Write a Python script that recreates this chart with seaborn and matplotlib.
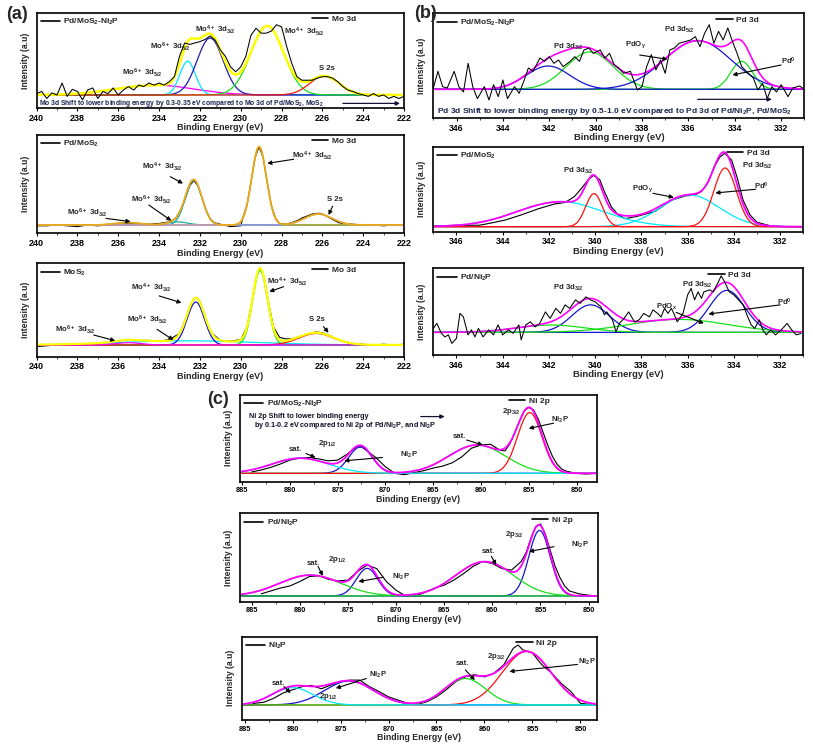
import numpy as np
import matplotlib
matplotlib.use("Agg")
import matplotlib.pyplot as plt
from matplotlib.lines import Line2D
from matplotlib.ticker import MultipleLocator
import seaborn as sns

# ======================= DATA =======================
# ---- (a) Mo 3d, Pd/MoS2-Ni2P ----
A1_E = [240.0, 239.75, 239.5, 239.25, 239.0, 238.75, 238.5, 238.25, 238.0, 237.75,
        237.5, 237.25, 237.0, 236.75, 236.5, 236.25, 236.0, 235.75, 235.5, 235.25,
        235.0, 234.75, 234.5, 234.25, 234.0, 233.75, 233.5, 233.25, 233.0, 232.75,
        232.5, 232.25, 232.0, 231.75, 231.5, 231.25, 231.0, 230.75, 230.5, 230.25,
        230.0, 229.75, 229.5, 229.25, 229.0, 228.75, 228.5, 228.25, 228.0, 227.75,
        227.5, 227.25, 227.0, 226.75, 226.5, 226.25, 226.0, 225.75, 225.5, 225.25,
        225.0, 224.75, 224.5, 224.25, 224.0, 223.75, 223.5, 223.25, 223.0, 222.75,
        222.5, 222.25, 222.0]
A1_I = [2, 5, -5, 3, 0, 17, -2, 8, 5, -7,
        7, 10, -5, 5, 2, 10, 0, 7, 12, 7,
        14, 12, 17, 14, 17, 14, 19, 26, 55, 74,
        72, 74, 76, 79, 84, 78, 64, 55, 40, 33,
        40, 55, 85, 95, 88, 88, 91, 100, 97, 69,
        45, 26, 21, 21, 21, 24, 26, 26, 24, 19,
        12, 7, 5, 2, 0, -2, 2, -2, 0, -5,
        -2, -5, -2]
A1_CENTER = [234.2, 232.6, 231.5, 228.7, 225.9]
A1_HEIGHT = [14, 48, 81, 98, 27]
A1_FWHM = [4.5, 0.9, 1.5, 1.9, 1.7]

# ---- (a) Mo 3d, Pd/MoS2 ----
A2_E = [240, 239.5, 239, 238.5, 238, 237.5, 237, 236.5, 236, 235.5, 235, 234.5, 234, 233.5,
        233.2, 232.9, 232.7, 232.5, 232.3, 232.1, 231.9, 231.7, 231.5, 231.3,
        231, 230.5, 230, 229.9, 229.7, 229.5, 229.3, 229.1, 228.9, 228.7,
        228.5, 228.3, 228.1, 227.8, 227.5, 227.2, 227, 226.7, 226.5, 226.2,
        226, 225.7, 225.5, 225.2, 225, 224.5, 224, 223.5, 223, 222.5, 222]
A2_I = [-1, -1, 0, -1, -2, 0, -1, 0, 1, 2, 2, 1, 2, 4,
        8, 21, 35, 50, 57, 50, 35, 19, 8, 3,
        1, -2, -1, 9, 25, 54, 86, 100, 86, 54,
        25, 9, 2, 1, 3, 6, 9, 12, 14, 15,
        14, 10, 7, 3, 2, 1, 0, 0, -1, 0, 0]
A2_CENTER = [235.5, 233.1, 232.3, 229.1, 226.2]
A2_HEIGHT = [3, 4, 57, 100, 14]
A2_FWHM = [1.5, 1.2, 0.95, 0.85, 1.6]

# ---- (a) Mo 3d, MoS2 ----
A3_E = [240, 239.5, 239, 238.5, 238, 237.5, 237, 236.5, 236, 235.5, 235, 234.5, 234, 233.5,
        233, 232.8, 232.6, 232.4, 232.2, 232, 231.8, 231.6, 231.4, 231,
        230.5, 230, 229.7, 229.45, 229.25, 229.05, 228.85, 228.65, 228.4, 228.1,
        227.8, 227.5, 227, 226.6, 226.3, 226, 225.6, 225.3, 225, 224.5,
        224, 223.5, 223, 222.5, 222]
A3_I = [-2, -1, 0, 0, 1, 2, 2, 3, 5, 7, 6, 6, 5, 7,
        15, 27, 42, 56, 62, 57, 42, 26, 15, 6,
        5, 7, 23, 57, 88, 101, 88, 57, 24, 10,
        8, 8, 12, 15, 17, 16, 12, 8, 5, 2,
        1, 0, 1, 0, 1]
A3_CENTER = [232.5, 232.2, 229.05, 226.3, 235.5]
A3_HEIGHT = [5.5, 56, 97, 15, 3]
A3_FWHM = [8.0, 1.0, 0.85, 2.0, 1.5]

# ---- (b) Pd 3d, Pd/MoS2-Ni2P ----
B1_E = [347, 346.8, 346.6, 346.4, 346.1, 345.9, 345.7, 345.5, 345.3, 345.1,
        344.8, 344.6, 344.4, 344.2, 344, 343.8, 343.5, 343.3, 343.1, 342.9,
        342.7, 342.4, 342.2, 342, 341.8, 341.6, 341.4, 341.1, 340.9, 340.7,
        340.5, 340.3, 340.1, 339.8, 339.6, 339.4, 339.2, 339, 338.8, 338.5,
        338.2, 338, 337.8, 337.6, 337.4, 337.2, 337, 336.8, 336.6, 336.4,
        336.1, 335.9, 335.7, 335.5, 335.3, 335.1, 334.9, 334.7, 334.5, 334.3,
        334.1, 333.9, 333.7, 333.5, 333.2, 333, 332.8, 332.6, 332.4, 332.2,
        332, 331.7, 331.5, 331.2, 331]
B1_I = [2, 27, 4, 2, 27, 4, -4, 39, 4, -14,
        4, -16, 7, -11, 14, -14, 4, -6, 12, 32,
        27, 47, 42, 49, 39, 44, 34, 42, 49, 42,
        59, 62, 54, 59, 47, 54, 37, 32, 24, 27,
        -1, 4, 34, 52, 29, 44, 24, 59, 62, 69,
        72, 74, 79, 64, 84, 97, 69, 87, 74, 92,
        72, 54, 34, 27, 17, -1, 9, -14, 4, -4,
        7, -11, 2, 5, 0]
B1_CENTER = [340.25, 333.7, 342.05, 335.6]
B1_HEIGHT = [56, 42, 35, 73]
B1_FWHM = [2.4, 1.1, 2.2, 3.4]

# ---- (b) Pd 3d, Pd/MoS2 ----
B2_E = [347, 346, 345, 344.5, 343.9, 343.2, 342.5, 341.75, 341.3, 340.9,
        340.6, 340.3, 340.07, 339.8, 339.6, 339.3, 339, 338.7, 338.2, 337.4,
        336.7, 336.1, 335.7, 335.4, 335.1, 334.85, 334.6, 334.4, 334.1, 333.85,
        333.6, 333.3, 333, 332.4, 331.7, 331]
B2_I = [1, 2, 2, 5, 9, 16, 24, 31, 33, 41,
        52, 64, 70, 64, 48, 27, 16, 11, 14, 21,
        36, 42, 43, 48, 61, 82, 95, 100, 91, 66,
        36, 16, 6, 1, 0, 0]
B2_CENTER = [341.5, 335.9, 340.05, 334.38]
B2_HEIGHT = [34, 43, 45, 80]
B2_FWHM = [4.4, 3.0, 0.85, 1.15]

# ---- (b) Pd 3d, Pd/Ni2P ----
B3_E = [347, 346.85, 346.65, 346.5, 346.35, 346.2, 346, 345.85, 345.7, 345.5,
        345.35, 345.2, 345.05, 344.85, 344.6, 344.4, 344.2, 344, 343.75, 343.55,
        343.3, 343.2, 343, 342.8, 342.6, 342.4, 342.15, 341.95, 341.7, 341.5,
        341.3, 341.1, 340.85, 340.65, 340.4, 340.2, 340, 339.75, 339.6, 339.5,
        339.25, 339.1, 338.95, 338.75, 338.55, 338.3, 338.1, 337.9, 337.65, 337.5,
        337.3, 337.15, 337, 336.85, 336.7, 336.6, 336.45, 336.2, 336, 335.85,
        335.7, 335.55, 335.4, 335.3, 335.05, 334.9, 334.7, 334.55, 334.4, 334.2,
        334, 333.8, 333.6, 333.4, 333.25, 333.1, 332.9, 332.75, 332.6, 332.4,
        332.2, 331.95, 331.7, 331.5, 331.3, 331.1]
B3_I = [8, 18, -2, -9, -5, -22, -12, 38, 31, -5,
        5, -9, 8, -9, 5, -5, 15, -5, 5, -2,
        15, -15, 15, 21, 11, 18, 41, 28, 48, 38,
        55, 48, 65, 58, 71, 65, 61, 51, 35, 41,
        25, 1, 18, 28, 41, 21, 25, 38, 31, 45,
        38, 31, 48, 38, 48, 38, 21, 38, 75, 88,
        65, 81, 68, 81, 85, 81, 98, 113, 101, 81,
        75, 65, 55, 31, 15, 8, 25, 5, -5, 5,
        -5, 5, 18, 5, -5, -2]
B3_CENTER = [340.2, 334.3, 341.9, 336.4]
B3_HEIGHT = [55, 84, 14.7, 26]
B3_FWHM = [1.9, 1.8, 3.5, 5.0]

# ---- (c) Ni 2p, Pd/MoS2-Ni2P ----
C1_E = [884, 883, 882, 881, 880, 879, 878, 877, 876, 875, 874,
        873, 872.5, 872, 871, 870, 869, 868, 867, 866, 865,
        864, 863, 862, 861, 860, 859, 858, 857.5, 857, 856.5,
        856, 855.5, 855, 854.5, 854, 853.5, 853, 852.5, 852, 851.5,
        851, 850, 849, 848]
C1_I = [2, 5, 9, 14, 20, 23, 24, 22, 19, 20, 29,
        40, 40, 35, 24, 10, 0, -2, 1, 4, 8,
        11, 16, 25, 38, 43, 44, 35, 34, 44, 60,
        78, 94, 100, 96, 82, 62, 42, 25, 13, 6,
        3, 0, -1, 0]
C1_CENTER = [872.6, 860.4, 854.9, 878.9]
C1_HEIGHT = [40, 43, 92, 23]
C1_FWHM = [2.9, 7.0, 3.0, 7.0]

# ---- (c) Ni 2p, Pd/Ni2P ----
C2_E = [884, 883, 882, 881, 880, 879, 878, 877, 876, 875,
        874, 873, 872, 871, 870, 869, 868, 867, 866, 865,
        864, 863, 862, 861, 860, 859, 858, 857,
        856.5, 856, 855.5, 855, 854.5, 854, 853.5, 853, 852.5, 852,
        851, 850, 849]
C2_I = [3, 7, 11, 14, 20, 27, 28, 23, 21, 22,
        34, 43, 38, 20, 8, 0, 0, 5, 11, 15,
        22, 31, 41, 48, 45, 38, 36, 48,
        60, 80, 96, 100, 86, 64, 42, 26, 14, 7,
        3, 1, 0]
C2_CENTER = [873.0, 855.1, 878.9, 860.8]
C2_HEIGHT = [38.4, 91, 29, 47.7]
C2_FWHM = [2.6, 2.6, 7.5, 7.0]

# ---- (c) Ni 2p, Ni2P ----
C3_E = [884.5, 884, 883, 882, 881, 880, 879, 878, 877, 876,
        875, 874, 873, 872, 871, 870, 869, 868, 867, 866,
        865, 864, 863, 862, 861, 860, 859, 858, 857, 856.5,
        856, 855, 854, 853, 852, 851, 850, 849, 848.5]
C3_I = [-1, 3, 5, 12, 22, 28, 34, 36, 30, 37,
        43, 46, 46, 34, 25, 15, 9, 3, 1, 6,
        15, 28, 43, 52, 56, 52, 59, 74, 105, 111,
        102, 96, 74, 59, 40, 25, 3, 1, 1]
C3_CENTER = [874.1, 855.6, 862.0, 880.0]
C3_HEIGHT = [44.4, 99, 49, 32]
C3_FWHM = [6.0, 6.0, 5.0, 5.0]

# ======================= STYLE / LAYOUT =======================
sns.set_theme(style="ticks")
plt.rcParams["font.family"] = ["Liberation Sans", "DejaVu Sans"]
plt.rcParams["font.weight"] = "bold"
plt.rcParams["axes.labelweight"] = "bold"
plt.rcParams["mathtext.default"] = "regular"

MAG, CYA, BLU, GRN, RED = "#ff00ff", "#00e8ff", "#1414d0", "#18e018", "#ff1010"

PANELS = [
    dict(rect=[0.045, 0.8548, 0.452, 0.1277], E=A1_E, I=A1_I, c=A1_CENTER, h=A1_HEIGHT, w=A1_FWHM,
         colors=[MAG, CYA, "#1c1cb0", GRN, RED], env="#ffff00", env_lw=1.8, raw_top=True,
         xlim=(240, 222), ylim=(-18.6, 116.7), major=2, minor=1,
         sample="Pd/MoS$_2$-Ni$_2$P", core="Mo 3d", core_x=0.875, tfs=6.5, xfs=6.5,
         labels=[("Mo$^{6+}$ 3d$_{5/2}$", 234.8, 31), ("Mo$^{6+}$ 3d$_{5/2}$", 233.45, 69),
                 ("Mo$^{4+}$ 3d$_{3/2}$", 231.25, 93), ("Mo$^{4+}$ 3d$_{5/2}$", 226.9, 90),
                 ("S 2s", 225.8, 38)],
         arrows=[],
         note=[("Mo 3d Shift to lower binding energy by 0.3-0.35 eV compared to Mo 3d of Pd/MoS$_2$, MoS$_2$",
                239.9, -12)],
         note_arrows=[(225.0, -12, 222.2, -12)], note_fs=4.9, note_color="#1b2450"),
    dict(rect=[0.045, 0.6864, 0.452, 0.1321], E=A2_E, I=A2_I, c=A2_CENTER, h=A2_HEIGHT, w=A2_FWHM,
         colors=["#2ecc55", "#20a8a0", "#20a8a0", "#eaa81c", "#c58cf0"], env="#eaa81c", env_lw=1.3,
         raw_top=False, xlim=(240, 222), ylim=(-10.6, 114.9), major=2, minor=1,
         sample="Pd/MoS$_2$", core="Mo 3d", core_x=0.875, tfs=6.5, xfs=6.5,
         labels=[("Mo$^{4+}$ 3d$_{3/2}$", 233.86, 74.5), ("Mo$^{4+}$ 3d$_{5/2}$", 226.5, 89),
                 ("Mo$^{6+}$ 3d$_{5/2}$", 234.4, 32), ("Mo$^{6+}$ 3d$_{3/2}$", 237.5, 15.7),
                 ("S 2s", 225.4, 32)],
         arrows=[(233.45, 61.7, 232.83, 53), (227.4, 84, 228.7, 78.7), (234.5, 25.5, 233.4, 5.5),
                 (236.6, 8.5, 235.4, 4.3), (225.5, 24, 225.7, 12.8)],
         note=[], note_arrows=[]),
    dict(rect=[0.045, 0.5206, 0.452, 0.1255], E=A3_E, I=A3_I, c=A3_CENTER, h=A3_HEIGHT, w=A3_FWHM,
         colors=[CYA, "#1010e0", GRN, RED, MAG], env="#ffff00", env_lw=1.6, raw_top=False,
         xlim=(240, 222), ylim=(-15.2, 106.5), major=2, minor=1,
         sample="MoS$_2$", core="Mo 3d", core_x=0.875, tfs=6.5, xfs=6.5,
         labels=[("Mo$^{4+}$ 3d$_{3/2}$", 234.4, 75), ("Mo$^{4+}$ 3d$_{5/2}$", 227.7, 82.6),
                 ("Mo$^{6+}$ 3d$_{5/2}$", 234.6, 32.6), ("Mo$^{6+}$ 3d$_{3/2}$", 238.1, 19.6),
                 ("S 2s", 226.25, 32.6)],
         arrows=[(234.0, 64, 232.9, 55), (227.9, 76, 228.6, 69.6), (234.1, 20.4, 233.3, 6.5),
                 (237.2, 13, 236.15, 5.6), (225.95, 24, 225.7, 16)],
         note=[], note_arrows=[]),
    dict(rect=[0.533, 0.8414, 0.4563, 0.1407], E=B1_E, I=B1_I, c=B1_CENTER, h=B1_HEIGHT, w=B1_FWHM,
         colors=[GRN, GRN, BLU, BLU], env=MAG, env_lw=1.2, raw_top=True,
         xlim=(347, 331), ylim=(-43, 114), major=2, minor=1,
         sample="Pd/MoS$_2$-Ni$_2$P", core="Pd 3d", core_x=0.885, tfs=6.2, xfs=6.8,
         labels=[("Pd 3d$_{3/2}$", 341.2, 64), ("PdO$_y$", 338.3, 66.5),
                 ("Pd 3d$_{5/2}$", 336.4, 89), ("Pd$^0$", 331.7, 41.5)],
         arrows=[(338.1, 51.5, 336.9, 45), (332.0, 36.5, 334.1, 21.5)],
         note=[("Pd 3d Shift to lower binding energy by 0.5-1.0 eV compared to Pd 3d of Pd/Ni$_2$P, Pd/MoS$_2$",
                346.86, -33.5)],
         note_arrows=[(335.6, -15, 332.4, -15)], note_fs=6.0, note_color="#1b2450"),
    dict(rect=[0.533, 0.6886, 0.455, 0.1142], E=B2_E, I=B2_I, c=B2_CENTER, h=B2_HEIGHT, w=B2_FWHM,
         colors=[CYA, CYA, RED, RED], env=MAG, env_lw=1.3, raw_top=False,
         xlim=(347, 331), ylim=(-6.8, 109), major=2, minor=1,
         sample="Pd/MoS$_2$", core="Pd 3d", core_x=0.915, tfs=6.2, xfs=6.8,
         labels=[("Pd 3d$_{3/2}$", 340.75, 76), ("PdO$_y$", 337.95, 52),
                 ("Pd 3d$_{5/2}$", 333.0, 83), ("Pd$^0$", 332.8, 54.5)],
         arrows=[(337.5, 45.5, 336.6, 40), (333.06, 51, 334.8, 46)],
         note=[], note_arrows=[]),
    dict(rect=[0.533, 0.5228, 0.455, 0.1165], E=B3_E, I=B3_I, c=B3_CENTER, h=B3_HEIGHT, w=B3_FWHM,
         colors=[BLU, BLU, GRN, GRN], env=MAG, env_lw=1.2, raw_top=True,
         xlim=(347, 331), ylim=(-45.3, 128), major=2, minor=1,
         sample="Pd/Ni$_2$P", core="Pd 3d", core_x=0.865, tfs=6.2, xfs=6.8,
         labels=[("Pd 3d$_{3/2}$", 341.15, 88), ("Pd 3d$_{5/2}$", 335.6, 95),
                 ("PdO$_x$", 336.9, 50), ("Pd$^0$", 331.8, 61)],
         arrows=[(336.5, 40, 335.3, 18), (332.0, 55, 335.1, 36.7)],
         note=[], note_arrows=[]),
    dict(rect=[0.2952, 0.3526, 0.4387, 0.1165], E=C1_E, I=C1_I, c=C1_CENTER, h=C1_HEIGHT, w=C1_FWHM,
         colors=[BLU, GRN, RED, CYA], env=MAG, env_lw=1.3, raw_top=False,
         xlim=(885.2, 847.9), ylim=(-12.6, 118.7), major=5, minor=2.5,
         sample="Pd/MoS$_2$-Ni$_2$P", core="Ni 2p", core_x=0.875, tfs=5.3, xfs=6.3,
         labels=[("sat.", 879.35, 36), ("2p$_{1/2}$", 876.1, 45), ("Ni$_2$P", 867.5, 28),
                 ("sat.", 862.2, 55.5), ("2p$_{3/2}$", 856.8, 93), ("Ni$_2$P", 851.7, 81)],
         arrows=[(878.3, 30, 877.3, 24), (870.3, 24, 874.3, 19), (861.5, 50.5, 859.8, 43),
                 (852.4, 76, 855.0, 68)],
         note=[("Ni 2p Shift to lower binding energy", 884.3, 86),
               ("by 0.1-0.2 eV compared to Ni 2p of Pd/Ni$_2$P, and Ni$_2$P", 883.7, 73)],
         note_arrows=[(866.3, 86, 863.8, 86)], note_fs=5.2, note_color="#111122"),
    dict(rect=[0.2952, 0.1913, 0.4407, 0.1188], E=C2_E, I=C2_I, c=C2_CENTER, h=C2_HEIGHT, w=C2_FWHM,
         colors=[BLU, BLU, GRN, GRN], env=MAG, env_lw=1.3, raw_top=False,
         xlim=(886.2, 849.0), ylim=(-7.9, 114.8), major=5, minor=2.5,
         sample="Pd/Ni$_2$P", core="Ni 2p", core_x=0.935, tfs=5.3, xfs=6.3,
         labels=[("sat.", 878.6, 45), ("2p$_{1/2}$", 876.1, 50), ("Ni$_2$P", 869.5, 27),
                 ("sat.", 860.4, 61.6), ("2p$_{3/2}$", 857.7, 85), ("Ni$_2$P", 850.9, 71)],
         arrows=[(878.1, 41, 877.6, 28), (871.3, 26, 873.9, 20), (860.1, 55, 859.6, 43),
                 (853.6, 68.5, 856.2, 61.6)],
         note=[], note_arrows=[]),
    dict(rect=[0.2973, 0.0323, 0.4367, 0.1120], E=C3_E, I=C3_I, c=C3_CENTER, h=C3_HEIGHT, w=C3_FWHM,
         colors=[BLU, RED, GRN, CYA], env=MAG, env_lw=1.3, raw_top=False,
         xlim=(885.3, 848.3), ylim=(-27.8, 126.5), major=5, minor=2.5,
         sample="Ni$_2$P", core="Ni 2p", core_x=0.895, tfs=5.3, xfs=6.3,
         labels=[("sat.", 881.5, 40), ("2p$_{1/2}$", 876.3, 15.4), ("Ni$_2$P", 871.1, 55.5),
                 ("sat.", 862.3, 77), ("2p$_{3/2}$", 858.8, 89.5), ("Ni$_2$P", 849.3, 80)],
         arrows=[(880.9, 34, 880.2, 22), (872.3, 49, 875.5, 31), (862.0, 65, 861.0, 46),
                 (850.3, 75, 857.4, 62)],
         note=[], note_arrows=[]),
]


def gauss(x, c, h, w):
    return h * np.exp(-4.0 * np.log(2.0) * (x - c) ** 2 / w ** 2)


def line(ax, x, y, color, lw):
    sns.lineplot(x=np.asarray(x, float), y=np.asarray(y, float), ax=ax, color=color,
                 linewidth=lw, estimator=None, errorbar=None, legend=False)


fig = plt.figure(figsize=(8.13, 7.44), dpi=100)

for p in PANELS:
    ax = fig.add_axes(p["rect"])
    lo, hi = min(p["xlim"]), max(p["xlim"])
    grid = np.linspace(lo, hi, 900)
    comps = [gauss(grid, c, h, w) for c, h, w in zip(p["c"], p["h"], p["w"])]
    if not p["raw_top"]:
        line(ax, p["E"], p["I"], "black", 0.8)
    for comp, col in zip(comps, p["colors"]):
        line(ax, grid, comp, col, 0.9)
    line(ax, grid, np.sum(comps, axis=0), p["env"], p["env_lw"])
    if p["raw_top"]:
        line(ax, p["E"], p["I"], "black", 0.75)

    ax.set_xlim(p["xlim"])
    ax.set_ylim(p["ylim"])
    ax.set_yticks([])
    ax.xaxis.set_major_locator(MultipleLocator(p["major"]))
    ax.xaxis.set_minor_locator(MultipleLocator(p["minor"]))
    ax.tick_params(axis="x", which="major", length=2.5, width=0.8, pad=1.5,
                   labelsize=p["tfs"], direction="out", colors="black")
    ax.tick_params(axis="x", which="minor", length=1.5, width=0.6, direction="out")
    for lab in ax.get_xticklabels():
        lab.set_fontweight("bold")
    for s in ax.spines.values():
        s.set_linewidth(1.2)
        s.set_color("black")
    ax.set_xlabel("Binding Energy (eV)", fontsize=p["xfs"], fontweight="bold", labelpad=0.5)
    ax.set_ylabel("Intensity (a.u)", fontsize=6.2, fontweight="bold", labelpad=5)

    # legends: sample name (left) and core level (right)
    h = Line2D([], [], color="black", lw=1.2)
    l1 = ax.legend([h], [p["sample"]], loc="upper left", bbox_to_anchor=(0.0, 1.0),
                   frameon=False, prop=dict(size=6, weight="bold"), handlelength=2.3,
                   handletextpad=0.4, borderaxespad=0.2, borderpad=0.3)
    ax.add_artist(l1)
    ax.legend([h], [p["core"]], loc="upper right", bbox_to_anchor=(p["core_x"], 1.0),
              frameon=False, prop=dict(size=6, weight="bold"), handlelength=2.0,
              handletextpad=0.4, borderaxespad=0.1, borderpad=0.2)

    for txt, x, y in p["labels"]:
        ax.text(x, y, txt, fontsize=5.6, fontweight="bold", ha="center", va="center")
    for x0, y0, x1, y1 in p["arrows"]:
        ax.annotate("", xy=(x1, y1), xytext=(x0, y0),
                    arrowprops=dict(arrowstyle="-|>", color="black", lw=0.8, mutation_scale=6,
                                    shrinkA=0, shrinkB=0))
    for txt, x, y in p["note"]:
        ax.text(x, y, txt, fontsize=p["note_fs"], fontweight="bold", ha="left", va="center",
                color=p["note_color"])
    for x0, y0, x1, y1 in p["note_arrows"]:
        ax.annotate("", xy=(x1, y1), xytext=(x0, y0),
                    arrowprops=dict(arrowstyle="-|>", color="#111133", lw=0.9, mutation_scale=6,
                                    shrinkA=0, shrinkB=0))

fig.text(0.021, 0.981, "(a)", fontsize=13, fontweight="bold", ha="center", va="center")
fig.text(0.523, 0.982, "(b)", fontsize=13, fontweight="bold", ha="center", va="center")
fig.text(0.268, 0.4624, "(c)", fontsize=13, fontweight="bold", ha="center", va="center")

fig.savefig("out.png", dpi=100)
